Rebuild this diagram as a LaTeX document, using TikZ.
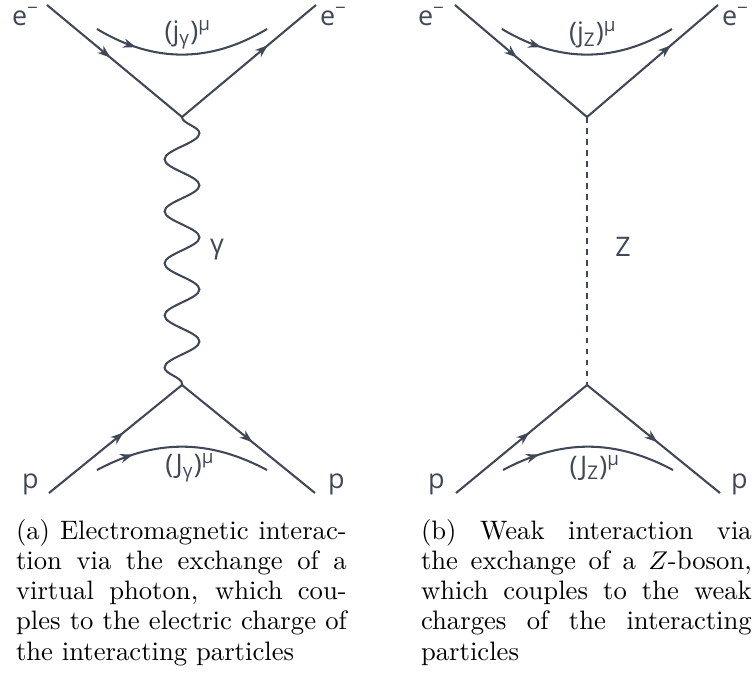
\documentclass[tikz,border=0pt]{standalone}
\usepackage{fontspec}
\newfontfamily\diagfont{Open Sans}
\usetikzlibrary{arrows.meta,decorations.markings,decorations.pathmorphing}
\definecolor{feyn}{HTML}{404756}
\newcommand{\elec}{e\textsuperscript{\char"2212}}

\tikzset{
  fermion/.style={postaction={decorate}, decoration={markings,
      mark=at position #1 with {\arrow{Stealth[length=5pt,width=3.6pt,inset=1.6pt]}}}},
  current/.style={fermion=#1},
  photon/.style={decorate, decoration={snake, segment length=20.3pt, amplitude=6.8pt}},
  zboson/.style={dash pattern=on 2.3pt off 2pt},
  label/.style={inner sep=0pt, text=feyn, font=\diagfont\fontsize{10.5}{12}\selectfont},
  caption/.style={anchor=base west, inner sep=0pt, text width=129pt, align=justify,
      font=\fontsize{10.4}{11.8}\selectfont}
}

\begin{document}
\begin{tikzpicture}[x=0.39pt, y=-0.39pt, line width=0.8pt, color=feyn]
\useasboundingbox (0,0) rectangle (753,672);

% (a) photon exchange
\coordinate (ain) at (47,5);
\coordinate (aout) at (316,5);
\coordinate (atop) at (182,117);
\coordinate (abot) at (182,385);
\coordinate (apin) at (49,493);
\coordinate (apout) at (315,493);
\coordinate (ajl) at (97,29);
\coordinate (ajr) at (267,29);
\coordinate (aJl) at (97,470);
\coordinate (aJr) at (267,470);
\draw[fermion=0.47] (ain) -- (atop);
\draw[fermion=0.64] (atop) -- (aout);
\draw[fermion=0.56] (apin) -- (abot);
\draw[fermion=0.53] (abot) -- (apout);
\draw[photon] (atop) -- (abot);
\draw[current=0.24] (ajl) to[bend right=31] (ajr);
\draw[current=0.22] (aJl) to[bend left=28] (aJr);
\node[label, anchor=base west] (ae1) at (11,25) {\elec};
\node[label, anchor=base west] (ae2) at (319,25) {\elec};
\node[label, anchor=base west] (ap1) at (21,488) {p};
\node[label, anchor=base west] (ap2) at (327,488) {p};
\node[label] (aj) at (188,35) {(j\textsubscript{γ})\textsuperscript{μ}};
\node[label] (aJ) at (190,468) {(J\textsubscript{γ})\textsuperscript{μ}};
\node[label] (ag) at (217,250) {γ};

% (b) Z exchange
\coordinate (bin) at (455,5);
\coordinate (bout) at (718,5);
\coordinate (btop) at (587,117);
\coordinate (bbot) at (587,385);
\coordinate (bpin) at (456,493);
\coordinate (bpout) at (720,493);
\coordinate (bjl) at (502,29);
\coordinate (bjr) at (672,29);
\coordinate (bJl) at (503,470);
\coordinate (bJr) at (673,470);
\draw[fermion=0.47] (bin) -- (btop);
\draw[fermion=0.64] (btop) -- (bout);
\draw[fermion=0.56] (bpin) -- (bbot);
\draw[fermion=0.53] (bbot) -- (bpout);
\draw[zboson] (btop) -- (bbot);
\draw[current=0.24] (bjl) to[bend right=31] (bjr);
\draw[current=0.22] (bJl) to[bend left=28] (bJr);
\node[label, anchor=base west] (be1) at (417,25) {\elec};
\node[label, anchor=base west] (be2) at (721,25) {\elec};
\node[label, anchor=base west] (bp1) at (427,488) {p};
\node[label, anchor=base west] (bp2) at (730,488) {p};
\node[label] (bj) at (593,35) {(j\textsubscript{Z})\textsuperscript{μ}};
\node[label] (bJ) at (595,468) {(J\textsubscript{Z})\textsuperscript{μ}};
\node[label] (bz) at (623,247) {Z};

% captions
\node[caption, text=black] (capa) at (15,539) {(a) Electromagnetic interaction via the exchange of a virtual photon, which couples to the electric charge of the interacting particles};
\node[caption, text=black] (capb) at (420,539) {(b) Weak interaction via the exchange of a $Z$-boson, which couples to the weak charges of the interacting particles};
\end{tikzpicture}
\end{document}
